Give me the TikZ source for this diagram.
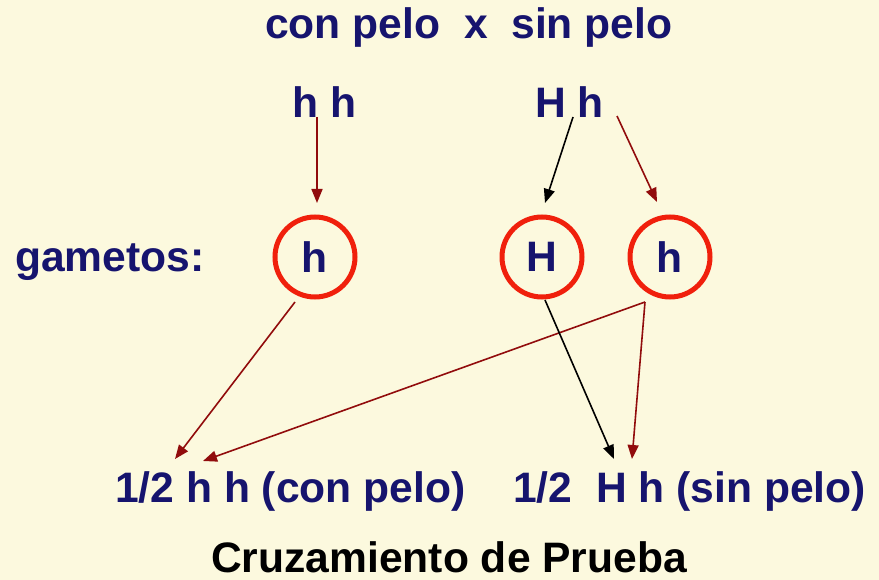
\documentclass[tikz,border=0pt]{standalone}
\usepackage{fontspec}
\setmainfont{Liberation Sans}
\usetikzlibrary{arrows.meta}
\definecolor{bgc}{RGB}{252,249,222}
\definecolor{navy}{RGB}{22,20,110}
\definecolor{circred}{RGB}{240,32,12}
\definecolor{arrred}{RGB}{145,12,12}
\tikzset{
  txt/.style={anchor=base west, inner sep=0pt, text=navy, font=\fontsize{42.6}{50}\selectfont\bfseries},
  gam/.style={circle, draw=circred, line width=5pt, minimum size=80pt, inner sep=0pt, text=navy, font=\fontsize{42.6}{50}\selectfont\bfseries},
  redarr/.style={draw=arrred, line width=1.6pt, -{Triangle[length=14pt,width=11pt]}},
  blkarr/.style={draw=black, line width=1.6pt, -{Triangle[length=14pt,width=11pt]}}
}
\begin{document}
\begin{tikzpicture}[x=1pt,y=-1pt]
\fill[bgc] (0,0) rectangle (879,580);
\useasboundingbox (0,0) rectangle (879,580);
\node[txt] (title) at (265,39) {con pelo~~x~~sin pelo};
\node[txt] (p1) at (292,118) {h h};
\node[txt] (p2) at (535,118) {H h};
\node[txt] (gl) at (15,272) {gametos:};
\node[gam] (g1) at (315,257) {h};
\node[gam] (g2) at (542,257) {H};
\node[gam] (g3) at (670,257) {h};
\node[txt] (r1) at (115,502) {1/2 h h (con pelo)};
\node[txt] (r2) at (513,502) {1/2~~H h (sin pelo)};
\node[txt, text=black] (cap) at (211,572) {Cruzamiento de Prueba};
% endpoints
\coordinate (p1o) at (317,117);
\coordinate (p2oa) at (573,117);
\coordinate (p2ob) at (617,116);
\coordinate (g1i) at (317,203);
\coordinate (g2i) at (545,203);
\coordinate (g3i) at (657,202);
\coordinate (g1o) at (295,302);
\coordinate (g2o) at (545,300);
\coordinate (g3o) at (645,302);
\coordinate (r1a) at (175,459);
\coordinate (r1b) at (203,461);
\coordinate (r2a) at (614,459);
\coordinate (r2b) at (632,459);
\draw[redarr] (p1o) -- (g1i);
\draw[blkarr] (p2oa) -- (g2i);
\draw[redarr] (p2ob) -- (g3i);
\draw[redarr] (g1o) -- (r1a);
\draw[redarr] (g3o) -- (r1b);
\draw[redarr] (g3o) -- (r2b);
\draw[blkarr] (g2o) -- (r2a);
\end{tikzpicture}
\end{document}
